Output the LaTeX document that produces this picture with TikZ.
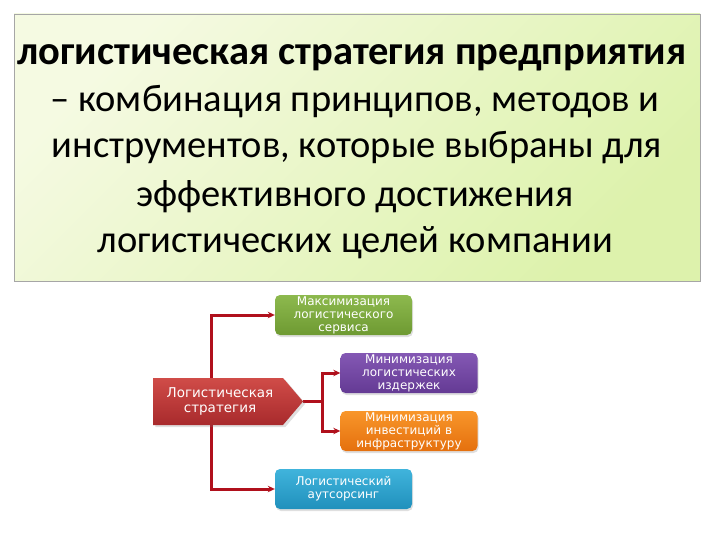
\documentclass[tikz,border=0pt]{standalone}
\usepackage{fontspec}
\setmainfont{Carlito}
\newfontfamily\boxfont{DejaVu Sans}
\usepackage{tikz}
\usetikzlibrary{positioning,calc,arrows.meta,shadows}

\definecolor{deflight}{HTML}{F5FAE2}
\definecolor{defdark}{HTML}{DDF2AC}
\definecolor{linkred}{HTML}{B0101C}
\definecolor{servtop}{HTML}{8DB94E}
\definecolor{servbot}{HTML}{6E9A32}
\definecolor{costtop}{HTML}{8458B4}
\definecolor{costbot}{HTML}{643A94}
\definecolor{invtop}{HTML}{F8962A}
\definecolor{invbot}{HTML}{E5700E}
\definecolor{outtop}{HTML}{40B4DC}
\definecolor{outbot}{HTML}{2090BC}
\definecolor{strattop}{HTML}{D04C48}
\definecolor{stratbot}{HTML}{A82A2C}

\begin{document}
\begin{tikzpicture}[x=1bp, y=-1bp,
    defline/.style={font=\fontsize{38.5bp}{47bp}\selectfont, anchor=base, inner sep=0pt},
    goalbox/.style={rounded corners=5bp, minimum width=137bp, minimum height=40bp,
        inner sep=1bp, align=center, text=white,
        font=\boxfont\fontsize{12bp}{13bp}\selectfont,
        drop shadow={opacity=0.25, shadow xshift=1bp, shadow yshift=-2bp}},
    conn/.style={draw=linkred, line width=3bp, -{Stealth[length=7bp, width=6.5bp]}},
]
\useasboundingbox (0,0) rectangle (720,540);

% definition box
\shade[top color=deflight, bottom color=defdark, shading angle=45, draw=black!35, line width=0.8bp]
    (14,14) rectangle (700,281);
\node[defline, font=\fontsize{40.5bp}{47bp}\selectfont\bfseries] (t1) at (352,65) {логистическая стратегия предприятия};
\node[defline] (t2) at (355,112) {– комбинация принципов, методов и};
\node[defline] (t3) at (357,158) {инструментов, которые выбраны для};
\node[defline] (t4) at (355,207) {эффективного достижения};
\node[defline] (t5) at (355,253) {логистических целей компании};

% goal boxes
\node[goalbox, top color=servtop, bottom color=servbot] (maxserv) at (343.5,315)
    {Максимизация\\логистического\\сервиса};
\node[goalbox, top color=costtop, bottom color=costbot] (mincost) at (409,373)
    {Минимизация\\логистических\\издержек};
\node[goalbox, top color=invtop, bottom color=invbot] (mininv) at (409,431)
    {Минимизация\\инвестиций в\\инфраструктуру};
\node[goalbox, top color=outtop, bottom color=outbot] (outs) at (343.5,489)
    {Логистический\\аутсорсинг};

% connectors
\coordinate (trunk) at (211,401.5);
\coordinate (tip) at (303,401.5);
\draw[conn] (trunk) |- (maxserv.west);
\draw[conn] (trunk) |- (outs.west);
\draw[conn] (tip) -- ++(19,0) |- (mincost.west);
\draw[conn] (tip) -- ++(19,0) |- (mininv.west);

% strategy arrow
\shade[top color=strattop, bottom color=stratbot, drop shadow={opacity=0.25, shadow yshift=-2bp}]
    (153,378) -- (283,378) -- (tip) -- (283,425) -- (153,425) -- cycle;
\node[align=center, text=white, font=\boxfont\fontsize{13.5bp}{15bp}\selectfont] (strat) at (220,401.5)
    {Логистическая\\стратегия};
\end{tikzpicture}
\end{document}
